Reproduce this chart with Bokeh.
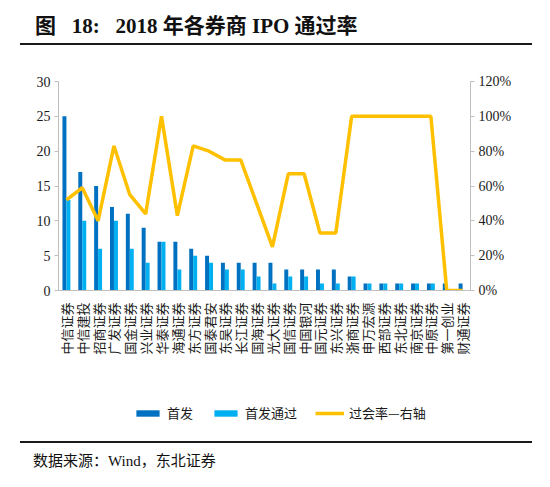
from math import pi
from bokeh.plotting import figure
from bokeh.models import (ColumnDataSource, FactorRange, Range1d, LinearAxis, FixedTicker,
                          NumeralTickFormatter, Legend, LegendItem, Div)
from bokeh.transform import dodge
from bokeh.layouts import column
from bokeh.embed import file_html
from bokeh.resources import INLINE

brokers = ["中信证券", "中信建投", "招商证券", "广发证券", "国金证券", "兴业证券", "华泰证券",
           "海通证券", "东方证券", "国泰君安", "东吴证券", "长江证券", "国海证券", "光大证券",
           "国信证券", "中国银河", "国元证券", "东兴证券", "浙商证券", "申万宏源", "西部证券",
           "东北证券", "南京证券", "中原证券", "第一创业", "财通证券"]
ipo_filed = [25, 17, 15, 12, 11, 9, 7, 7, 6, 5, 4, 4, 4, 4, 3, 3, 3, 3, 2, 1, 1, 1, 1, 1, 1, 1]
ipo_passed = [13, 10, 6, 10, 6, 4, 7, 3, 5, 4, 3, 3, 2, 1, 2, 2, 1, 1, 2, 1, 1, 1, 1, 1, 0, 0]
pass_rate = [0.52, 0.59, 0.40, 0.83, 0.55, 0.44, 1.00, 0.43, 0.83, 0.80, 0.75, 0.75, 0.50, 0.25,
             0.67, 0.67, 0.33, 0.33, 1.00, 1.00, 1.00, 1.00, 1.00, 1.00, 0.00, 0.00]
left_ticks = [0, 5, 10, 15, 20, 25, 30]
right_ticks = [0, 0.2, 0.4, 0.6, 0.8, 1.0, 1.2]

title_text = "图&nbsp;&nbsp;&nbsp;18:&nbsp;&nbsp;&nbsp;2018 年各券商 IPO 通过率"
legend_labels = ["首发", "首发通过", "过会率—右轴"]
source_text = "数据来源：Wind，东北证券"

DARK = "#0070C0"
LIGHT = "#00B0F0"
ORANGE = "#FFC000"
GREY = "#BFBFBF"
SERIF = "'Liberation Serif', 'Noto Sans CJK SC'"

src = ColumnDataSource(dict(cat=brokers, filed=ipo_filed, passed=ipo_passed, rate=pass_rate))
xr = FactorRange(factors=brokers, range_padding=0)

p = figure(x_range=xr, y_range=Range1d(0, 30), width=550, height=345,
           output_backend="svg", toolbar_location=None,
           min_border_left=58, min_border_right=80, min_border_top=36, min_border_bottom=100)
p.extra_y_ranges = {"rate": Range1d(0, 1.2)}

r1 = p.vbar(x=dodge("cat", -0.125, range=xr), top="filed", width=0.25, source=src,
            fill_color=DARK, line_color=None)
r2 = p.vbar(x=dodge("cat", 0.125, range=xr), top="passed", width=0.25, source=src,
            fill_color=LIGHT, line_color=None)
r3 = p.line(x="cat", y="rate", y_range_name="rate", source=src, line_color=ORANGE, line_width=3.5)

p.outline_line_color = None
p.xgrid.grid_line_color = None
p.ygrid.grid_line_color = None
p.border_fill_alpha = 0

yax = p.yaxis[0]
yax.ticker = FixedTicker(ticks=left_ticks)
yax.axis_line_color = GREY
yax.major_tick_line_color = GREY
yax.major_tick_out = 4
yax.major_tick_in = 0
yax.minor_tick_line_color = None
yax.major_label_standoff = 4
yax.major_label_text_font = SERIF
yax.major_label_text_font_size = "14px"
yax.major_label_text_color = "#1a1a1a"

rax = LinearAxis(y_range_name="rate", ticker=FixedTicker(ticks=right_ticks),
                 formatter=NumeralTickFormatter(format="0%"))
rax.axis_line_color = GREY
rax.major_tick_line_color = GREY
rax.major_tick_out = 4
rax.major_tick_in = 0
rax.minor_tick_line_color = None
rax.major_label_standoff = 4
rax.major_label_text_font = SERIF
rax.major_label_text_font_size = "14px"
rax.major_label_text_color = "#1a1a1a"
p.add_layout(rax, "right")

xax = p.xaxis[0]
xax.axis_line_color = GREY
xax.major_tick_line_color = None
xax.minor_tick_line_color = None
xax.major_label_orientation = pi / 2
xax.major_label_standoff = 6
xax.major_label_text_font = "Noto Sans CJK SC"
xax.major_label_text_font_size = "13px"
xax.major_label_text_color = "#1a1a1a"

# legend strip below the chart: legend-only renderers (same source, not shown)
lg = figure(width=550, height=51, x_range=xr, y_range=Range1d(0, 30),
            output_backend="svg", toolbar_location=None,
            x_axis_location=None, y_axis_location=None,
            min_border_left=58, min_border_right=80, min_border_top=0, min_border_bottom=0)
lg.extra_y_ranges = {"rate": Range1d(0, 1.2)}
lg.outline_line_color = None
lg.xgrid.grid_line_color = None
lg.ygrid.grid_line_color = None
lg.border_fill_alpha = 0
l1 = lg.vbar(x=dodge("cat", -0.125, range=xr), top="filed", width=0.25, source=src,
             fill_color=DARK, line_color=None, visible=False)
l2 = lg.vbar(x=dodge("cat", 0.125, range=xr), top="passed", width=0.25, source=src,
             fill_color=LIGHT, line_color=None, visible=False)
l3 = lg.line(x="cat", y="rate", y_range_name="rate", source=src,
             line_color=ORANGE, line_width=3.5, visible=False)

legend = Legend(items=[LegendItem(label=legend_labels[0], renderers=[l1]),
                       LegendItem(label=legend_labels[1], renderers=[l2]),
                       LegendItem(label=legend_labels[2], renderers=[l3])],
                orientation="horizontal", location=(75, 19),
                glyph_width=29, glyph_height=8, label_standoff=5, spacing=18,
                padding=0, margin=0, border_line_color=None, background_fill_alpha=0,
                label_text_font="Noto Sans CJK SC", label_text_font_size="13px",
                label_text_color="#1a1a1a", label_height=16)
lg.add_layout(legend, "center")

title = Div(text=title_text, width=512, height=45, margin=(0, 18, 0, 20),
            styles={"box-sizing": "border-box", "border-bottom": "2.5px solid #1a1a1a",
                    "padding-left": "15px", "padding-top": "10px", "line-height": "32px",
                    "font-family": SERIF, "font-weight": "bold", "font-size": "21px",
                    "color": "#111", "white-space": "nowrap"})
source = Div(text=source_text, width=512, height=44, margin=(0, 18, 0, 20),
             styles={"box-sizing": "border-box", "border-top": "2.5px solid #1a1a1a",
                     "padding-left": "13px", "line-height": "36px",
                     "font-family": SERIF, "font-size": "15px",
                     "color": "#111", "white-space": "nowrap"})

layout = column(title, p, lg, source, spacing=0)
open("out.html", "w").write(file_html(layout, INLINE))
